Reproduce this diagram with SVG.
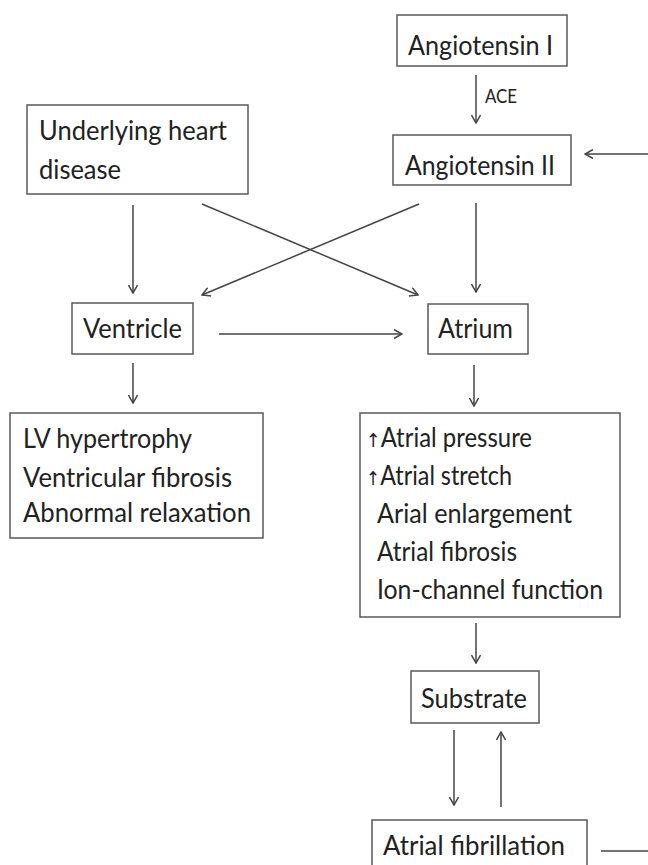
<svg xmlns="http://www.w3.org/2000/svg" width="648" height="865" viewBox="0 0 648 865">
<defs>
<style>
.box{fill:#fff;stroke:#5a5a5a;stroke-width:1.5}
.t{font-family:Lato,"Liberation Sans",sans-serif;font-size:26px;fill:#222}
.s{font-family:Lato,"Liberation Sans",sans-serif;font-size:19px;fill:#222}
.up{font-family:"DejaVu Sans","Liberation Sans",sans-serif;font-size:19px;fill:#222}
.c{stroke:#444;stroke-width:1.5;fill:none}
</style>
<marker id="ah" viewBox="0 0 10 10" refX="9" refY="5" markerWidth="10" markerHeight="10" markerUnits="userSpaceOnUse" orient="auto">
<path d="M1,0.5 L9,5 L1,9.5" fill="none" stroke="#444" stroke-width="1.5"/>
</marker>
</defs>
<rect width="648" height="865" fill="#fff"/>

<g id="connectors">
<line class="c" x1="476" y1="75" x2="476" y2="123" marker-end="url(#ah)"/>
<text class="s" x="485" y="103" textLength="32" lengthAdjust="spacingAndGlyphs">ACE</text>
<line class="c" x1="648" y1="154" x2="585" y2="154" marker-end="url(#ah)"/>
<line class="c" x1="133" y1="205" x2="133" y2="293" marker-end="url(#ah)"/>
<line class="c" x1="202" y1="204" x2="418" y2="295" marker-end="url(#ah)"/>
<line class="c" x1="419" y1="204" x2="202" y2="295" marker-end="url(#ah)"/>
<line class="c" x1="476" y1="203" x2="476" y2="292" marker-end="url(#ah)"/>
<line class="c" x1="219" y1="334" x2="402" y2="334" marker-end="url(#ah)"/>
<line class="c" x1="133" y1="363" x2="133" y2="403" marker-end="url(#ah)"/>
<line class="c" x1="474" y1="365" x2="474" y2="406" marker-end="url(#ah)"/>
<line class="c" x1="476" y1="623" x2="476" y2="663" marker-end="url(#ah)"/>
<line class="c" x1="454" y1="730" x2="454" y2="805" marker-end="url(#ah)"/>
<line class="c" x1="501" y1="807" x2="501" y2="732" marker-end="url(#ah)"/>
<line class="c" x1="601" y1="851" x2="648" y2="851"/>
</g>

<g id="angiotensin1">
<rect class="box" x="397" y="15" width="170" height="51"/>
<text class="t" x="408" y="55" textLength="145" lengthAdjust="spacingAndGlyphs">Angiotensin I</text>
</g>
<g id="angiotensin2">
<rect class="box" x="393" y="135" width="178" height="50"/>
<text class="t" x="405" y="175" textLength="150" lengthAdjust="spacingAndGlyphs">Angiotensin II</text>
</g>
<g id="underlying">
<rect class="box" x="27" y="105" width="221" height="89"/>
<text class="t" x="39" y="140" textLength="188" lengthAdjust="spacingAndGlyphs">Underlying heart</text>
<text class="t" x="39" y="179" textLength="82" lengthAdjust="spacingAndGlyphs">disease</text>
</g>
<g id="ventricle">
<rect class="box" x="72" y="303" width="121" height="51"/>
<text class="t" x="83" y="338" textLength="99" lengthAdjust="spacingAndGlyphs">Ventricle</text>
</g>
<g id="atrium">
<rect class="box" x="428" y="304" width="100" height="50"/>
<text class="t" x="438" y="338" textLength="75" lengthAdjust="spacingAndGlyphs">Atrium</text>
</g>
<g id="ventricular-changes">
<rect class="box" x="10" y="413" width="253" height="125"/>
<text class="t" x="23" y="448" textLength="169" lengthAdjust="spacingAndGlyphs">LV hypertrophy</text>
<text class="t" x="23" y="487" textLength="209" lengthAdjust="spacingAndGlyphs">Ventricular fibrosis</text>
<text class="t" x="23" y="522" textLength="228" lengthAdjust="spacingAndGlyphs">Abnormal relaxation</text>
</g>
<g id="atrial-changes">
<rect class="box" x="360" y="413" width="260" height="204"/>
<text class="t" x="366" y="447" textLength="166" lengthAdjust="spacingAndGlyphs"><tspan class="up">↑&#xFE0E;</tspan>Atrial pressure</text>
<text class="t" x="366" y="485" textLength="146" lengthAdjust="spacingAndGlyphs"><tspan class="up">↑&#xFE0E;</tspan>Atrial stretch</text>
<text class="t" x="377" y="523" textLength="195" lengthAdjust="spacingAndGlyphs">Arial enlargement</text>
<text class="t" x="377" y="561" textLength="140" lengthAdjust="spacingAndGlyphs">Atrial fibrosis</text>
<text class="t" x="377" y="599" textLength="226" lengthAdjust="spacingAndGlyphs">Ion-channel function</text>
</g>
<g id="substrate">
<rect class="box" x="411" y="671" width="128" height="52"/>
<text class="t" x="421" y="708" textLength="106" lengthAdjust="spacingAndGlyphs">Substrate</text>
</g>
<g id="atrial-fibrillation">
<rect class="box" x="372" y="820" width="215" height="60"/>
<text class="t" x="383" y="855" textLength="182" lengthAdjust="spacingAndGlyphs">Atrial fibrillation</text>
</g>
</svg>
